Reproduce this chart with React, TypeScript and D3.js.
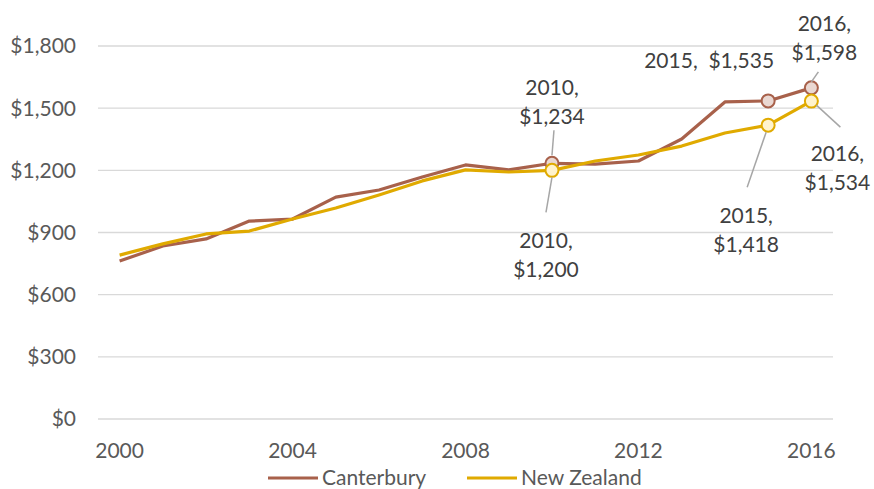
import { useEffect, useRef } from 'react';
import * as d3 from 'd3';

const YEARS = d3.range(2000, 2017).map(String);
const CANTERBURY = [762, 835, 869, 955, 965, 1071, 1105, 1168, 1226, 1202, 1234, 1230, 1245, 1351, 1530, 1535, 1598];
const NEW_ZEALAND = [791, 845, 893, 907, 965, 1018, 1081, 1149, 1202, 1192, 1200, 1245, 1274, 1317, 1380, 1418, 1534];
const Y_TICKS = [0, 300, 600, 900, 1200, 1500, 1800];
const X_TICKS = ['2000', '2004', '2008', '2012', '2016'];
const MARKED_YEARS = ['2010', '2015', '2016'];

const SERIES = [
  { name: 'Canterbury', values: CANTERBURY, color: '#A8614B', fill: '#EAD8D2' },
  { name: 'New Zealand', values: NEW_ZEALAND, color: '#E0AA00', fill: '#FFF3CC' },
];

// label placement: offsets from the marker, leader line [x1, y1, x2, y2] relative to the marker
const LABELS = [
  { s: 0, year: '2010', lines: ['2010,', '$1,234'], dx: 0, dy: -76, lead: [2, -33, 0, -8] },
  { s: 1, year: '2010', lines: ['2010,', '$1,200'], dx: -6, dy: 70, lead: [-6, 42, 0, 7] },
  { s: 0, year: '2015', lines: ['2015,  $1,535'], dx: -59, dy: -40, lead: null },
  { s: 0, year: '2016', lines: ['2016,', '$1,598'], dx: 13, dy: -64, lead: [7, -16, 0, -6] },
  { s: 1, year: '2016', lines: ['2016,', '$1,534'], dx: 26, dy: 53, lead: [29, 26, 5, 4] },
  { s: 1, year: '2015', lines: ['2015,', '$1,418'], dx: -22, dy: 90, lead: [-21, 62, -2, 7] },
];

const fmt = (v: number) => '$' + d3.format(',')(v);

export default function App() {
  const svgRef = useRef<SVGSVGElement | null>(null);

  useEffect(() => {
    const W = 874, H = 489;
    const svg = d3.select(svgRef.current);
    svg.selectAll('*').remove();
    svg.attr('width', W).attr('height', H).attr('viewBox', `0 0 ${W} ${H}`);

    const font = 'Lato, "Noto Sans", sans-serif';
    const FS = 21;
    const x = d3.scaleBand().domain(YEARS).range([98, 833]);
    const cx = (yr: string) => (x(yr) as number) + x.bandwidth() / 2;
    const y = d3.scaleLinear().domain([0, 1800]).range([419, 46]);

    // gridlines
    svg.append('g').selectAll('line').data(Y_TICKS).join('line')
      .attr('x1', 98).attr('x2', 833)
      .attr('y1', d => y(d)).attr('y2', d => y(d))
      .attr('stroke', '#D9D9D9').attr('stroke-width', 1.3);

    // y labels
    svg.append('g').selectAll('text').data(Y_TICKS).join('text')
      .attr('x', 76).attr('y', d => y(d)).attr('dy', '0.35em')
      .attr('text-anchor', 'end')
      .attr('font-family', font).attr('font-size', FS).attr('fill', '#595959')
      .text(d => fmt(d));

    // x labels
    svg.append('g').selectAll('text').data(X_TICKS).join('text')
      .attr('x', d => cx(d)).attr('y', 451).attr('dy', '0.35em')
      .attr('text-anchor', 'middle')
      .attr('font-family', font).attr('font-size', FS).attr('fill', '#595959')
      .text(d => d);

    const line = d3.line<number>().x((_, i) => cx(YEARS[i])).y(d => y(d));

    SERIES.forEach(s => {
      svg.append('path').attr('d', line(s.values))
        .attr('fill', 'none').attr('stroke', s.color).attr('stroke-width', 3.2)
        .attr('stroke-linejoin', 'round');
    });

    SERIES.forEach(s => {
      svg.append('g').selectAll('circle').data(MARKED_YEARS).join('circle')
        .attr('cx', d => cx(d)).attr('cy', d => y(s.values[YEARS.indexOf(d)]))
        .attr('r', 6.5).attr('fill', s.fill).attr('stroke', s.color).attr('stroke-width', 2);
    });

    // data labels
    LABELS.forEach(l => {
      const px = cx(l.year);
      const py = y(SERIES[l.s].values[YEARS.indexOf(l.year)]);
      if (l.lead) {
        svg.append('line')
          .attr('x1', px + l.lead[0]).attr('y1', py + l.lead[1])
          .attr('x2', px + l.lead[2]).attr('y2', py + l.lead[3])
          .attr('stroke', '#A6A6A6').attr('stroke-width', 1.5);
      }
      const t = svg.append('text')
        .attr('text-anchor', 'middle')
        .attr('font-family', font).attr('font-size', FS).attr('fill', '#404040');
      l.lines.forEach((ln, i) => {
        t.append('tspan').attr('x', px + l.dx).attr('y', py + l.dy + i * 29).attr('dy', '0.35em')
          .attr('xml:space', 'preserve').text(ln);
      });
    });

    // legend
    const legend = [
      { name: 'Canterbury', color: SERIES[0].color, x: 268 },
      { name: 'New Zealand', color: SERIES[1].color, x: 467 },
    ];
    const lg = svg.append('g');
    legend.forEach(d => {
      lg.append('line').attr('x1', d.x).attr('x2', d.x + 50).attr('y1', 478).attr('y2', 478)
        .attr('stroke', d.color).attr('stroke-width', 3.2);
      lg.append('text').attr('x', d.x + 54).attr('y', 478).attr('dy', '0.35em')
        .attr('font-family', font).attr('font-size', FS).attr('fill', '#595959')
        .text(d.name);
    });
  }, []);

  return (
    <svg ref={svgRef} style={{ position: 'absolute', left: 0, top: 0, display: 'block', background: '#fff' }} />
  );
}
